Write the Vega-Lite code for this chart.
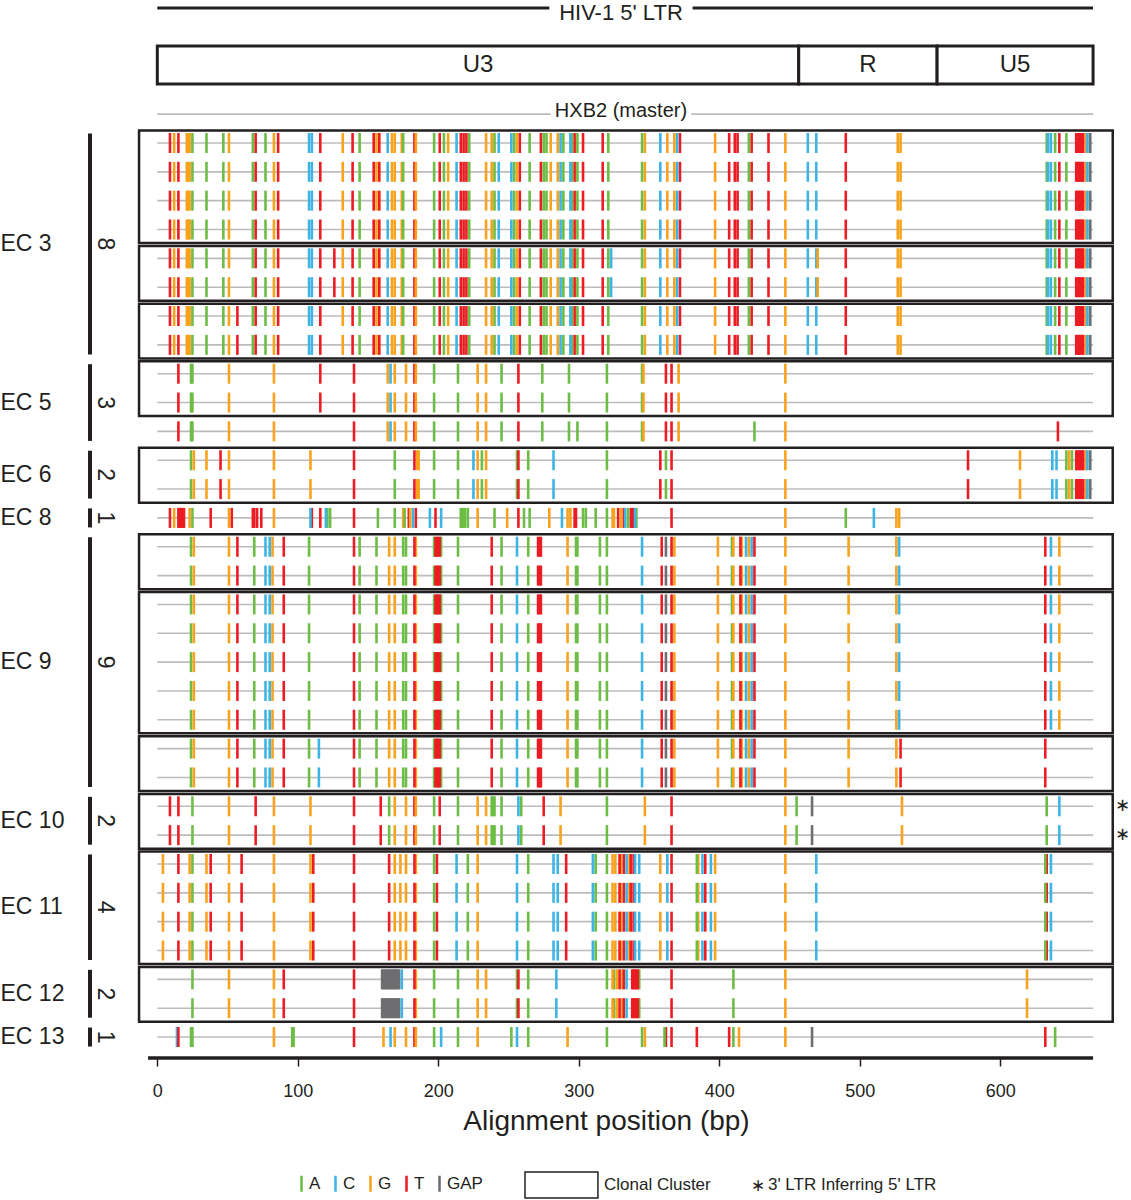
{
"$schema": "https://vega.github.io/schema/vega-lite/v6.json",
"width": 1131, "height": 1058,
"autosize": "none",
"padding": {"left": 0, "top": 0, "right": 0, "bottom": 142},
"background": "white",
"config": {
  "font": "Liberation Sans",
  "view": {"stroke": null},
  "axisY": {"disable": true},
  "axisX": {"grid": false, "domain": false}
},
"datasets": {
  "muts": [
    {"n":"T","r":[1,2,3,4,5,6,7,8],"p":[9,15,70,86,116,139,154,158,183,201,216,218,220,258,273,297,303,317,372,407,411,413,423,435,490,642,654,655,656,657,658,659]},
    {"n":"G","r":[1,2,3,4,5,6,7,8],"p":[12,21,22,23,51,83,132,156,167,169,174,184,207,234,238,256,280,285,347,363,368,397,447,527,529,661]},
    {"n":"A","r":[1,2,3,4,5,6,7,8],"p":[25,35,47,68,77,144,175,197,204,222,240,254,265,275,277,289,295,299,321,345,421,633,639,647]},
    {"n":"C","r":[1,2,3,4,5,6,7,8],"p":[108,110,164,213,243,252,287,294,358,370,463,469,634,636,662]},
    {"n":"GAP","r":[1,2,3,4,5,6,7,8],"p":[664]},
    {"n":"T","r":[5,6],"p":[126]},
    {"n":"C","r":[5,6],"p":[323]},
    {"n":"G","r":[5,6],"p":[470]},
    {"n":"T","r":[7,8],"p":[57]},
    {"n":"T","r":[9,10,11],"p":[15,140,183,257,362,366]},
    {"n":"A","r":[9,10,11],"p":[24,25,197,214,245,274,293,320,345]},
    {"n":"G","r":[9,10,11],"p":[51,83,164,169,177,184,228,234,346,371,447]},
    {"n":"C","r":[9,10,11],"p":[166]},
    {"n":"T","r":[9,10],"p":[116]},
    {"n":"A","r":[11],"p":[299,425]},
    {"n":"T","r":[11],"p":[641]},
    {"n":"A","r":[12,13],"p":[24,169,197,214,231,256,264,320,362,647,651]},
    {"n":"G","r":[12,13],"p":[26,35,51,83,109,185,186,228,234,447,614,649,661]},
    {"n":"T","r":[12,13],"p":[45,140,183,257,358,366,577,654,655,656,657,658,659]},
    {"n":"C","r":[12,13],"p":[225,282,637,640,662]},
    {"n":"GAP","r":[12,13],"p":[664]},
    {"n":"T","r":[14],"p":[9,15,16,17,18,19,38,53,68,69,71,74,110,116,140,179,184,198,257,297,298,328,332,337,338,339,366]},
    {"n":"G","r":[14],"p":[12,23,51,83,175,180,228,249,279,292,294,324,325,330,447,526,528]},
    {"n":"A","r":[14],"p":[25,121,123,157,169,176,216,217,218,219,221,240,261,265,303,305,312,320,335,341,490]},
    {"n":"C","r":[14],"p":[109,120,182,194,202,288,333,340,510]},
    {"n":"A","r":[15,16,17,18,19,20,21,22,23],"p":[24,69,108,144,156,175,177,197,202,214,245,264,298,299,315,320,409]},
    {"n":"G","r":[15,16,17,18,19,20,21,22,23],"p":[26,51,82,165,169,184,292,368,399,410,416,421,447,492,526]},
    {"n":"T","r":[15,16,17,18,19,20,21,22,23],"p":[57,90,140,183,198,199,200,201,238,271,272,273,359,366,415,425,632]},
    {"n":"C","r":[15,16,17,18,19,20,21,22,23],"p":[77,80,256,345,419,423]},
    {"n":"GAP","r":[15,16,17,18,19,20,21,22,23],"p":[362]},
    {"n":"C","r":[15,16,17,18,19,20,21],"p":[528,636]},
    {"n":"G","r":[15,16,17,18,19,20,21],"p":[642]},
    {"n":"C","r":[22,23],"p":[115]},
    {"n":"T","r":[22,23],"p":[529]},
    {"n":"T","r":[24,25],"p":[9,15,70,140,159,183,201,275,366]},
    {"n":"A","r":[24,25],"p":[25,165,197,214,238,239,240,245,259,320,455,633]},
    {"n":"G","r":[24,25],"p":[51,83,109,169,177,184,228,234,287,347,447,530]},
    {"n":"C","r":[24,25],"p":[257,642]},
    {"n":"GAP","r":[24,25],"p":[466]},
    {"n":"G","r":[26,27,28,29],"p":[4,23,35,51,83,109,169,173,177,184,228,324,326,330,336,358,385,397,447]},
    {"n":"T","r":[26,27,28,29],"p":[15,38,60,111,140,165,183,199,291,329,332,337,339,366,390,633]},
    {"n":"A","r":[26,27,28,29],"p":[25,197,221,264,312,320,384,632]},
    {"n":"C","r":[26,27,28,29],"p":[213,256,282,285,310,334,340,343,363,388,394,469,636]},
    {"n":"A","r":[30,31],"p":[25,197,214,256,264,320,325,343,410]},
    {"n":"G","r":[30,31],"p":[51,83,184,228,234,324,327,331,447,619]},
    {"n":"T","r":[30,31],"p":[90,140,183,257,329,332,338,339,340,341,342,366]},
    {"n":"C","r":[30,31],"p":[174,284,334]},
    {"n":"GAP","r":[30,31],"p":[160,161,162,163,164,165,166,167,168,169,170,171,172]},
    {"n":"C","r":[32],"p":[14,166,202,256]},
    {"n":"T","r":[32],"p":[15,140,183,362,366,384,407,632]},
    {"n":"A","r":[32],"p":[24,25,96,97,197,214,252,264,320,345,361,410,639]},
    {"n":"G","r":[32],"p":[83,161,169,177,184,228,292,347,414,447]},
    {"n":"GAP","r":[32],"p":[466]}
  ],
  "rows": [
    {"row":0},{"row":1},{"row":2},{"row":3},{"row":4},{"row":5},{"row":6},{"row":7},{"row":8},
    {"row":9},{"row":10},{"row":11},{"row":12},{"row":13},{"row":14},{"row":15},{"row":16},
    {"row":17},{"row":18},{"row":19},{"row":20},{"row":21},{"row":22},{"row":23},
    {"row":24,"star":true},{"row":25,"star":true},{"row":26},{"row":27},{"row":28},{"row":29},
    {"row":30},{"row":31},{"row":32}
  ],
  "patients": [
    {"pt":"EC 3","n":"8","first":1,"last":8},
    {"pt":"EC 5","n":"3","first":9,"last":11},
    {"pt":"EC 6","n":"2","first":12,"last":13},
    {"pt":"EC 8","n":"1","first":14,"last":14},
    {"pt":"EC 9","n":"9","first":15,"last":23},
    {"pt":"EC 10","n":"2","first":24,"last":25},
    {"pt":"EC 11","n":"4","first":26,"last":29},
    {"pt":"EC 12","n":"2","first":30,"last":31},
    {"pt":"EC 13","n":"1","first":32,"last":32}
  ],
  "clusters": [
    {"first":1,"last":4},{"first":5,"last":6},{"first":7,"last":8},{"first":9,"last":10},
    {"first":12,"last":13},{"first":15,"last":16},{"first":17,"last":21},{"first":22,"last":23},
    {"first":24,"last":25},{"first":26,"last":29},{"first":30,"last":31}
  ],
  "regions": [
    {"name":"U3","start":0,"end":456.5},
    {"name":"R","start":456.5,"end":555},
    {"name":"U5","start":555,"end":666}
  ]
},
"layer": [
  {
    "data": {"name": "clusters"},
    "transform": [{"calculate": "datum.first - 0.43", "as": "y0"}, {"calculate": "datum.last + 0.47", "as": "y1"}],
    "mark": {"type": "rect", "filled": false, "stroke": "#231f20", "strokeWidth": 2.5},
    "encoding": {
      "x": {"datum": -13, "type": "quantitative", "scale": {"domain": [-111.96, 693], "nice": false, "zero": false}},
      "x2": {"datum": 680},
      "y": {"field": "y0", "type": "quantitative", "scale": {"domain": [-3.958, 32.727], "nice": false, "zero": false, "reverse": true}},
      "y2": {"field": "y1"}
    }
  },
  {
    "data": {"name": "rows"},
    "mark": {"type": "rule", "color": "#bcbcbc", "strokeWidth": 1.6},
    "encoding": {
      "x": {"datum": 0, "type": "quantitative", "scale": {"domain": [-111.96, 693], "nice": false, "zero": false}},
      "x2": {"datum": 666},
      "y": {"field": "row", "type": "quantitative", "scale": {"domain": [-3.958, 32.727], "nice": false, "zero": false, "reverse": true}}
    }
  },
  {
    "data": {"values": [{"label": "HXB2 (master)"}]},
    "mark": {"type": "rect", "fill": "white"},
    "encoding": {
      "x": {"datum": 280, "type": "quantitative", "scale": {"domain": [-111.96, 693], "nice": false, "zero": false}},
      "x2": {"datum": 380},
      "y": {"datum": -0.35, "type": "quantitative", "scale": {"domain": [-3.958, 32.727], "nice": false, "zero": false, "reverse": true}},
      "y2": {"datum": 0.35}
    }
  },
  {
    "data": {"values": [{"label": "HXB2 (master)"}]},
    "mark": {"type": "text", "fontSize": 20, "color": "#231f20", "align": "center", "baseline": "middle"},
    "encoding": {
      "x": {"datum": 330, "type": "quantitative", "scale": {"domain": [-111.96, 693], "nice": false, "zero": false}},
      "y": {"datum": -0.1, "type": "quantitative", "scale": {"domain": [-3.958, 32.727], "nice": false, "zero": false, "reverse": true}},
      "text": {"field": "label"}
    }
  },
  {
    "data": {"name": "muts"},
    "transform": [{"flatten": ["p"]}, {"flatten": ["r"]}],
    "mark": {"type": "tick", "orient": "vertical", "size": 20, "thickness": 2.6, "opacity": 1},
    "encoding": {
      "x": {"field": "p", "type": "quantitative", "scale": {"domain": [-111.96, 693], "nice": false, "zero": false},
        "axis": {"values": [0, 100, 200, 300, 400, 500, 600], "domain": false, "grid": false, "ticks": true, "tickSize": 8, "tickWidth": 1.5, "tickColor": "#231f20",
          "labels": true, "labelFontSize": 18, "labelColor": "#231f20", "labelPadding": 16, "labelFlush": false,
          "title": "Alignment position (bp)", "titleFontSize": 28, "titleFontWeight": "normal", "titleColor": "#231f20", "titlePadding": 7, "titleX": 606}},
      "y": {"field": "r", "type": "quantitative", "scale": {"domain": [-3.958, 32.727], "nice": false, "zero": false, "reverse": true}},
      "color": {"field": "n", "type": "nominal",
        "scale": {"domain": ["A", "C", "G", "T", "GAP"], "range": ["#6dbd45", "#3cb4e5", "#f9a21b", "#ec1c24", "#6d6e70"]},
        "legend": {"orient": "none", "legendX": 293, "legendY": 1175, "direction": "horizontal", "title": null,
          "symbolType": "M-0.16,-1H0.16V1H-0.16Z", "symbolSize": 256, "symbolStrokeWidth": 0,
          "labelFontSize": 17, "labelColor": "#231f20", "labelOffset": -1, "columnPadding": 6}}
    }
  },
  {
    "data": {"name": "patients"},
    "transform": [{"calculate": "datum.first - 0.33", "as": "y0"}, {"calculate": "datum.last + 0.33", "as": "y1"}],
    "mark": {"type": "rule", "color": "#231f20", "strokeWidth": 4},
    "encoding": {
      "x": {"datum": -47.9, "type": "quantitative", "scale": {"domain": [-111.96, 693], "nice": false, "zero": false}},
      "y": {"field": "y0", "type": "quantitative", "scale": {"domain": [-3.958, 32.727], "nice": false, "zero": false, "reverse": true}},
      "y2": {"field": "y1"}
    }
  },
  {
    "data": {"name": "patients"},
    "transform": [{"calculate": "(datum.first + datum.last) / 2", "as": "mid"}],
    "mark": {"type": "text", "fontSize": 23, "color": "#231f20", "align": "left", "baseline": "middle"},
    "encoding": {
      "x": {"datum": -111.6, "type": "quantitative", "scale": {"domain": [-111.96, 693], "nice": false, "zero": false}},
      "y": {"field": "mid", "type": "quantitative", "scale": {"domain": [-3.958, 32.727], "nice": false, "zero": false, "reverse": true}},
      "text": {"field": "pt"}
    }
  },
  {
    "data": {"name": "patients"},
    "transform": [{"calculate": "(datum.first + datum.last) / 2", "as": "mid"}],
    "mark": {"type": "text", "fontSize": 23, "color": "#231f20", "align": "center", "baseline": "middle", "angle": 90},
    "encoding": {
      "x": {"datum": -37.5, "type": "quantitative", "scale": {"domain": [-111.96, 693], "nice": false, "zero": false}},
      "y": {"field": "mid", "type": "quantitative", "scale": {"domain": [-3.958, 32.727], "nice": false, "zero": false, "reverse": true}},
      "text": {"field": "n"}
    }
  },
  {
    "data": {"name": "rows"},
    "transform": [{"filter": "datum.star"}],
    "mark": {"type": "text", "fontSize": 18, "color": "#231f20", "align": "center", "baseline": "middle", "text": "∗"},
    "encoding": {
      "x": {"datum": 687, "type": "quantitative", "scale": {"domain": [-111.96, 693], "nice": false, "zero": false}},
      "y": {"field": "row", "type": "quantitative", "scale": {"domain": [-3.958, 32.727], "nice": false, "zero": false, "reverse": true}}
    }
  },
  {
    "data": {"name": "regions"},
    "mark": {"type": "rect", "fill": "white", "stroke": "#231f20", "strokeWidth": 3},
    "encoding": {
      "x": {"field": "start", "type": "quantitative", "scale": {"domain": [-111.96, 693], "nice": false, "zero": false}},
      "x2": {"field": "end"},
      "y": {"datum": -2.363, "type": "quantitative", "scale": {"domain": [-3.958, 32.727], "nice": false, "zero": false, "reverse": true}},
      "y2": {"datum": -1.046}
    }
  },
  {
    "data": {"name": "regions"},
    "transform": [{"calculate": "(datum.start + datum.end) / 2", "as": "mid"}],
    "mark": {"type": "text", "fontSize": 24, "color": "#231f20", "align": "center", "baseline": "middle"},
    "encoding": {
      "x": {"field": "mid", "type": "quantitative", "scale": {"domain": [-111.96, 693], "nice": false, "zero": false}},
      "y": {"datum": -1.705, "type": "quantitative", "scale": {"domain": [-3.958, 32.727], "nice": false, "zero": false, "reverse": true}},
      "text": {"field": "name"}
    }
  },
  {
    "data": {"values": [{}]},
    "mark": {"type": "rule", "color": "#231f20", "strokeWidth": 3},
    "encoding": {
      "x": {"datum": 0, "type": "quantitative", "scale": {"domain": [-111.96, 693], "nice": false, "zero": false}},
      "x2": {"datum": 279},
      "y": {"datum": -3.681, "type": "quantitative", "scale": {"domain": [-3.958, 32.727], "nice": false, "zero": false, "reverse": true}}
    }
  },
  {
    "data": {"values": [{}]},
    "mark": {"type": "rule", "color": "#231f20", "strokeWidth": 3},
    "encoding": {
      "x": {"datum": 381, "type": "quantitative", "scale": {"domain": [-111.96, 693], "nice": false, "zero": false}},
      "x2": {"datum": 666},
      "y": {"datum": -3.681, "type": "quantitative", "scale": {"domain": [-3.958, 32.727], "nice": false, "zero": false, "reverse": true}}
    }
  },
  {
    "data": {"values": [{"label": "HIV-1 5' LTR"}]},
    "mark": {"type": "text", "fontSize": 22, "color": "#231f20", "align": "center", "baseline": "middle"},
    "encoding": {
      "x": {"datum": 330, "type": "quantitative", "scale": {"domain": [-111.96, 693], "nice": false, "zero": false}},
      "y": {"datum": -3.508, "type": "quantitative", "scale": {"domain": [-3.958, 32.727], "nice": false, "zero": false, "reverse": true}},
      "text": {"field": "label"}
    }
  },
  {
    "data": {"values": [{}]},
    "mark": {"type": "rule", "color": "#231f20", "strokeWidth": 3.5},
    "encoding": {
      "x": {"datum": -6.6, "type": "quantitative", "scale": {"domain": [-111.96, 693], "nice": false, "zero": false}},
      "x2": {"datum": 666},
      "y": {"datum": 32.727, "type": "quantitative", "scale": {"domain": [-3.958, 32.727], "nice": false, "zero": false, "reverse": true}}
    }
  },
  {
    "data": {"values": [{}]},
    "mark": {"type": "rect", "filled": false, "stroke": "#231f20", "strokeWidth": 1.5},
    "encoding": {
      "x": {"datum": 261.7, "type": "quantitative", "scale": {"domain": [-111.96, 693], "nice": false, "zero": false}},
      "x2": {"datum": 313.6},
      "y": {"datum": 36.68, "type": "quantitative", "scale": {"domain": [-3.958, 32.727], "nice": false, "zero": false, "reverse": true}},
      "y2": {"datum": 37.58}
    }
  },
  {
    "data": {"values": [{"label": "Clonal Cluster"}]},
    "mark": {"type": "text", "fontSize": 17, "color": "#231f20", "align": "left", "baseline": "middle"},
    "encoding": {
      "x": {"datum": 317.9, "type": "quantitative", "scale": {"domain": [-111.96, 693], "nice": false, "zero": false}},
      "y": {"datum": 37.13, "type": "quantitative", "scale": {"domain": [-3.958, 32.727], "nice": false, "zero": false, "reverse": true}},
      "text": {"field": "label"}
    }
  },
  {
    "data": {"values": [{"label": "∗"}]},
    "mark": {"type": "text", "fontSize": 17, "color": "#231f20", "align": "center", "baseline": "middle"},
    "encoding": {
      "x": {"datum": 427.5, "type": "quantitative", "scale": {"domain": [-111.96, 693], "nice": false, "zero": false}},
      "y": {"datum": 37.15, "type": "quantitative", "scale": {"domain": [-3.958, 32.727], "nice": false, "zero": false, "reverse": true}},
      "text": {"field": "label"}
    }
  },
  {
    "data": {"values": [{"label": "3' LTR Inferring 5' LTR"}]},
    "mark": {"type": "text", "fontSize": 17, "color": "#231f20", "align": "left", "baseline": "middle"},
    "encoding": {
      "x": {"datum": 434.6, "type": "quantitative", "scale": {"domain": [-111.96, 693], "nice": false, "zero": false}},
      "y": {"datum": 37.13, "type": "quantitative", "scale": {"domain": [-3.958, 32.727], "nice": false, "zero": false, "reverse": true}},
      "text": {"field": "label"}
    }
  }
]
}
